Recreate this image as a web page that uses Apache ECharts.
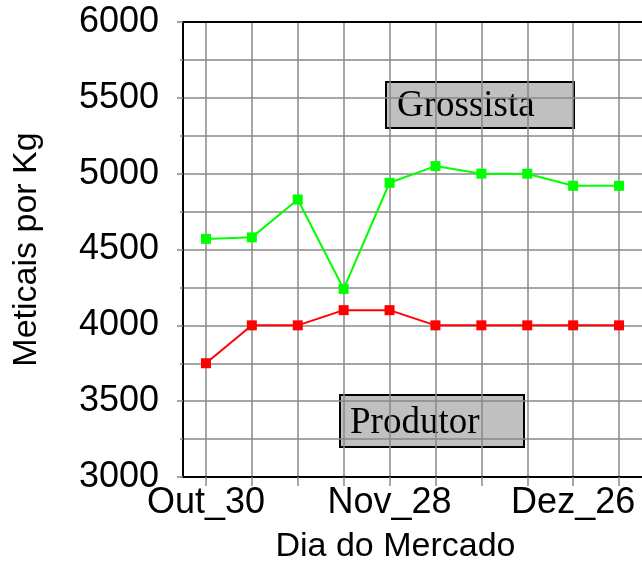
<!DOCTYPE html>
<html>
<head>
<meta charset="utf-8">
<script src="https://cdn.jsdelivr.net/npm/echarts@6/dist/echarts.min.js"></script>
<style>
html,body{margin:0;padding:0;background:#fff;}
#chart{width:642px;height:569px;}
</style>
</head>
<body>
<div id="chart"></div>
<script>
var categories = ['Out_30','Nov_06','Nov_13','Nov_20','Nov_28','Dez_05','Dez_12','Dez_19','Dez_26','Jan_02'];
var grossista = [4570, 4580, 4830, 4240, 4940, 5050, 5000, 5000, 4920, 4920];
var produtor = [3750, 4000, 4000, 4100, 4100, 4000, 4000, 4000, 4000, 4000];
var yTicks = [3000, 3500, 4000, 4500, 5000, 5500, 6000];

var chart = echarts.init(document.getElementById('chart'), null, {renderer:'canvas'});
var gridColor = '#888888';
var sans = '"Liberation Sans", Arial, sans-serif';
var serif = '"Liberation Serif", "Times New Roman", serif';

chart.setOption({
  animation: false,
  backgroundColor: '#ffffff',
  grid: {left: 183, top: 22, width: 460, height: 459, containLabel: false},
  xAxis: [{
    type: 'category',
    data: categories,
    boundaryGap: true,
    position: 'bottom',
    name: 'Dia do Mercado',
    nameLocation: 'middle',
    nameGap: 53,
    nameTextStyle: {fontFamily: sans, fontSize: 34, color: '#000', padding: [0, 34, 0, 0]},
    axisLine: {show: true, lineStyle: {color: '#000', width: 2}},
    axisTick: {show: true, alignWithLabel: true, interval: 0, length: 9, lineStyle: {color: gridColor, width: 1.5}},
    axisLabel: {interval: 3, fontFamily: sans, fontSize: 36, color: '#000', margin: 8},
    splitLine: {show: true, alignWithLabel: true, interval: 0, lineStyle: {color: gridColor, width: 1.5}}
  }, {
    type: 'category',
    data: categories,
    position: 'top',
    axisLine: {show: true, lineStyle: {color: '#000', width: 2}},
    axisTick: {show: false},
    axisLabel: {show: false},
    splitLine: {show: false}
  }],
  yAxis: {
    type: 'value',
    min: yTicks[0],
    max: yTicks[yTicks.length - 1],
    interval: 500,
    name: 'Meticais por Kg',
    nameLocation: 'middle',
    nameGap: 139,
    nameTextStyle: {fontFamily: sans, fontSize: 34, color: '#000'},
    axisLine: {show: true, lineStyle: {color: '#000', width: 2}},
    axisTick: {show: true, length: 6, lineStyle: {color: gridColor, width: 1.5}},
    minorTick: {show: true, splitNumber: 2, length: 3, lineStyle: {color: gridColor, width: 1.5}},
    axisLabel: {fontFamily: sans, fontSize: 36, color: '#000', margin: 24, formatter: function (v) { return String(v); }},
    splitLine: {show: true, lineStyle: {color: gridColor, width: 1.5}},
    minorSplitLine: {show: true, lineStyle: {color: gridColor, width: 1.5}}
  },
  series: [{
    name: 'Grossista',
    type: 'line',
    data: grossista,
    symbol: 'rect',
    symbolSize: 10,
    lineStyle: {color: '#00ff00', width: 2},
    itemStyle: {color: '#00ff00'},
    z: 3
  }, {
    name: 'Produtor',
    type: 'line',
    data: produtor,
    symbol: 'rect',
    symbolSize: 10,
    lineStyle: {color: '#ff0000', width: 2},
    itemStyle: {color: '#ff0000'},
    z: 3
  }],
  graphic: [{
    type: 'group', left: 385, top: 81, z: 10,
    children: [
      {type: 'rect', shape: {x: 0, y: 0, width: 188, height: 46}, style: {fill: '#c0c0c0', stroke: '#000', lineWidth: 2}},
      {type: 'text', x: 11, y: 24, style: {text: 'Grossista', font: '37px ' + serif, fill: '#000', textVerticalAlign: 'middle'}}
    ]
  }, {
    type: 'group', left: 339, top: 394, z: 10,
    children: [
      {type: 'rect', shape: {x: 0, y: 0, width: 184, height: 52}, style: {fill: '#c0c0c0', stroke: '#000', lineWidth: 2}},
      {type: 'text', x: 10, y: 28, style: {text: 'Produtor', font: '37px ' + serif, fill: '#000', textVerticalAlign: 'middle'}}
    ]
  }]
});
</script>
</body>
</html>
